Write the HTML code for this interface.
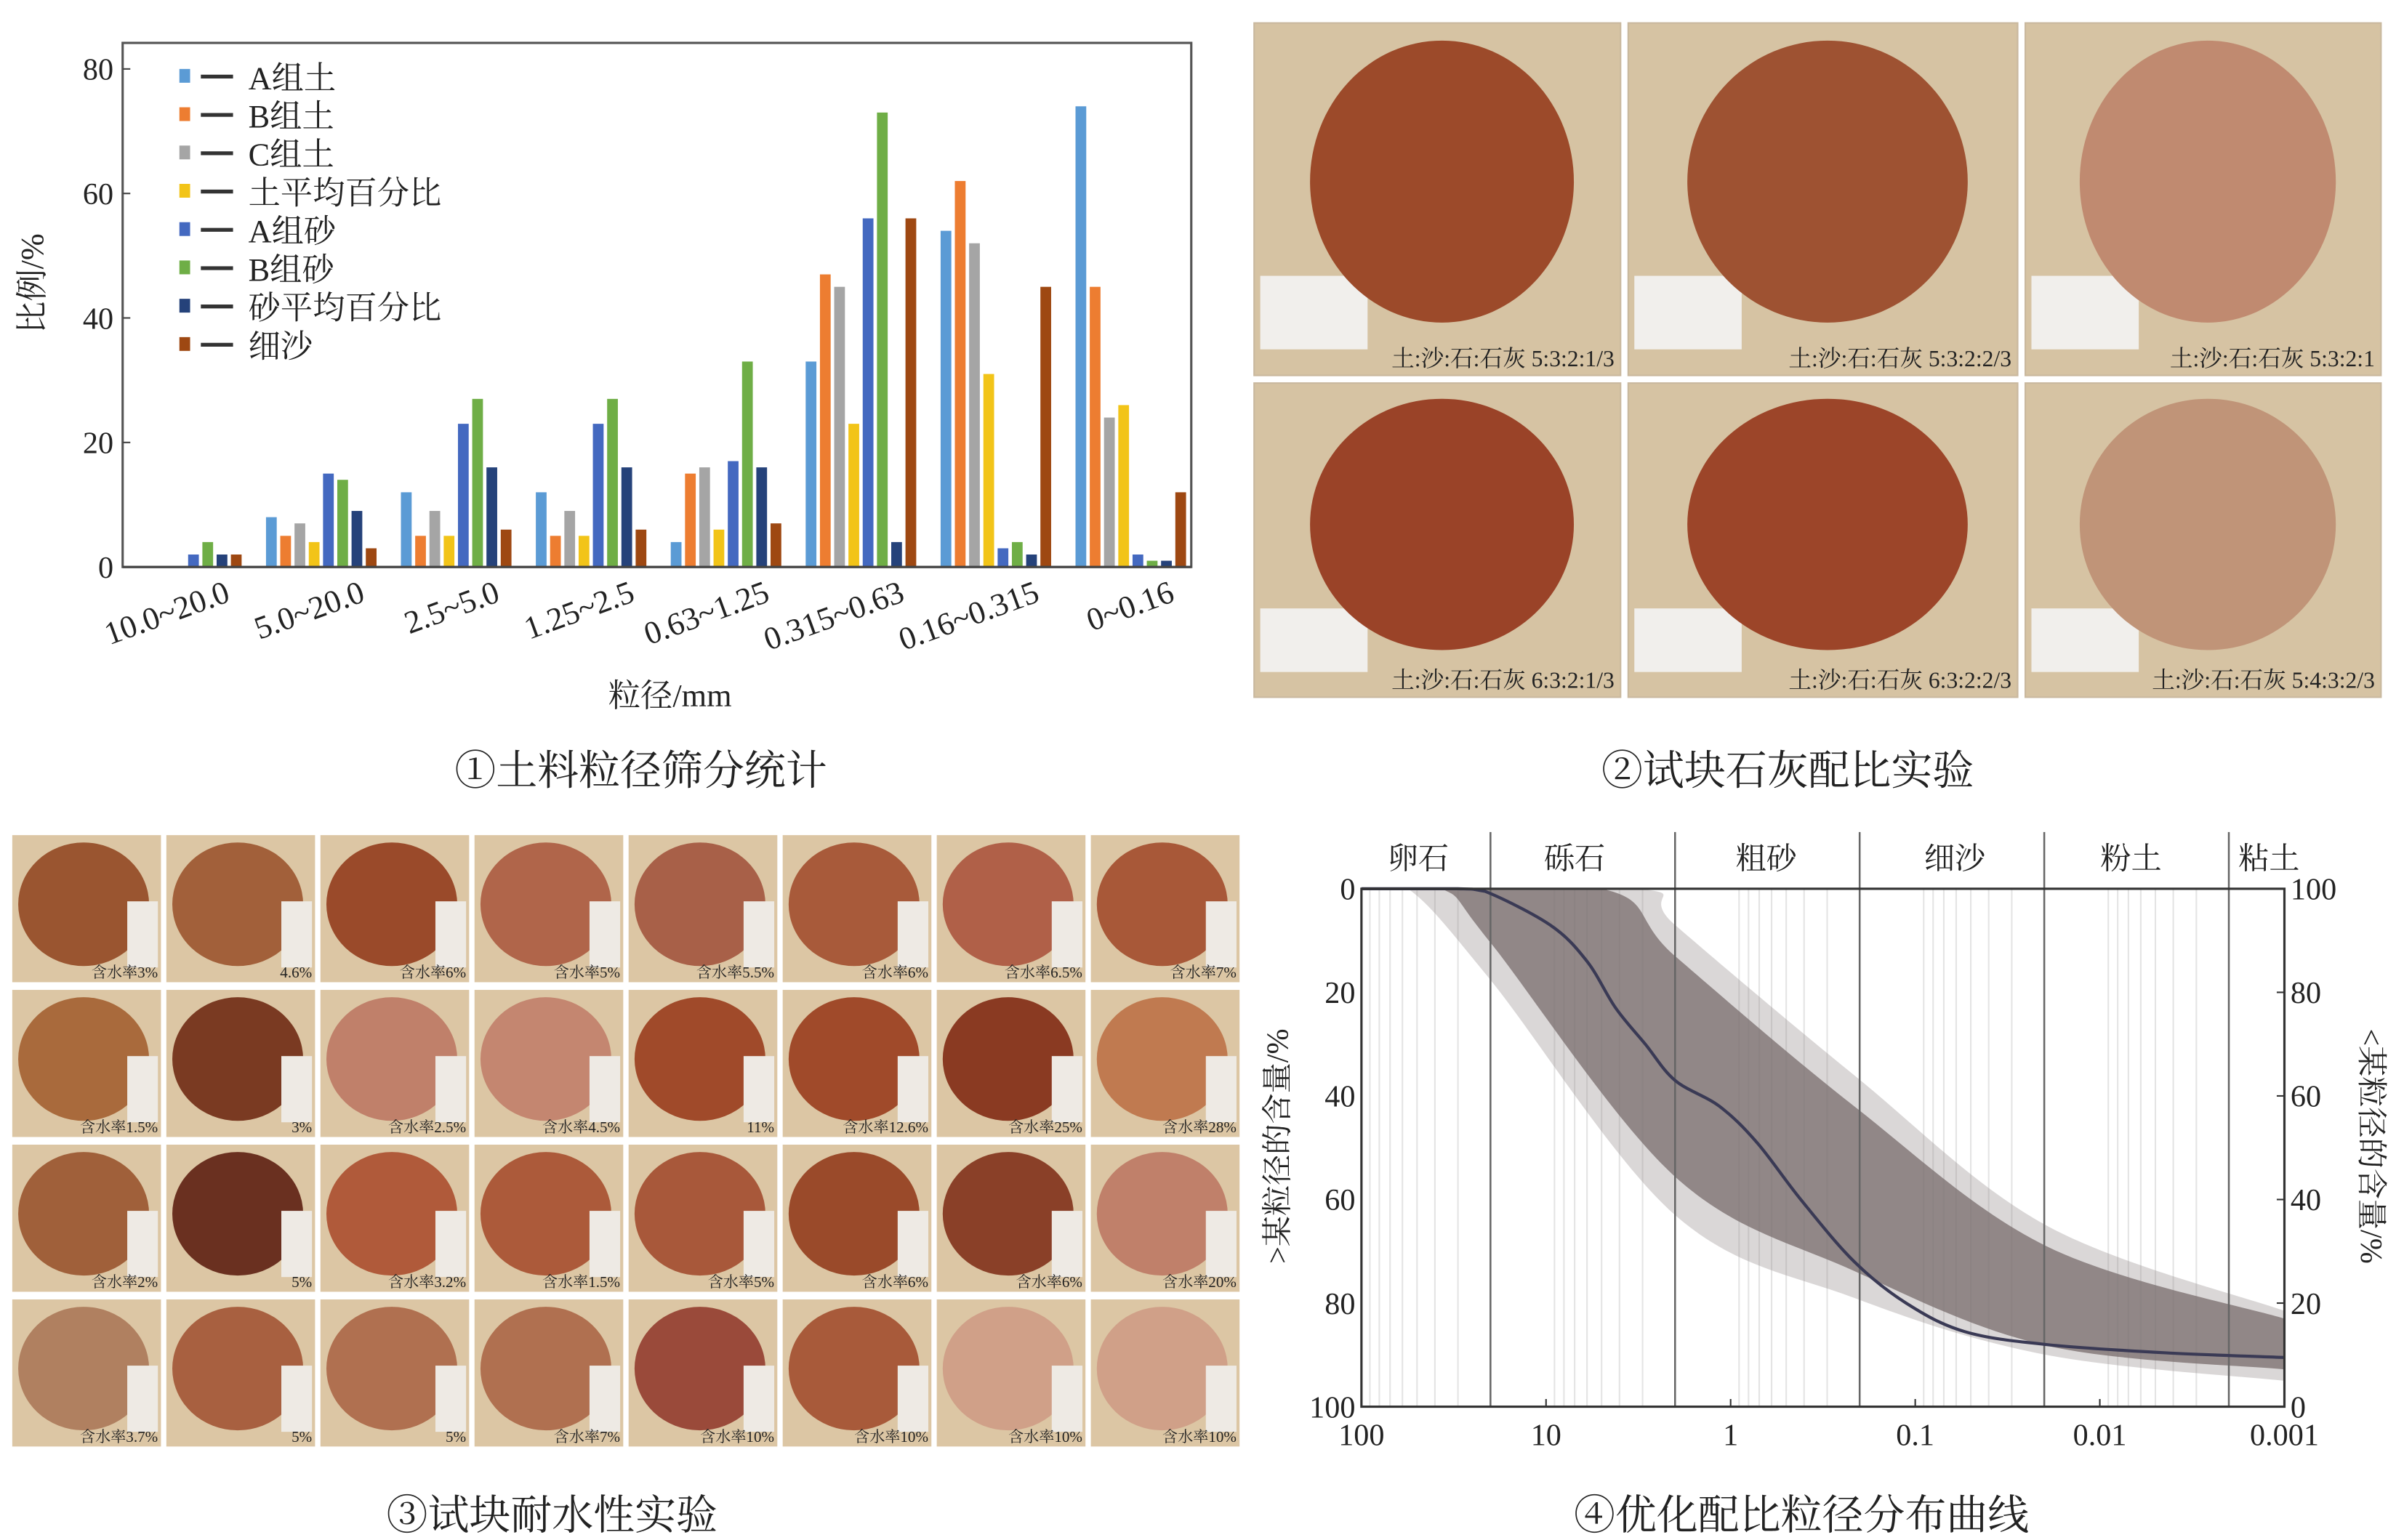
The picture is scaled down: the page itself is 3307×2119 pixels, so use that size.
<!DOCTYPE html>
<html><head><meta charset="utf-8"><style>
html,body{margin:0;padding:0;background:#fff;}
svg{display:block;}
text{font-family:"Liberation Serif","Noto Serif CJK SC",serif;fill:#222;}
</style></head><body>
<svg id="root" width="3307" height="2119" viewBox="0 0 1568 1005" preserveAspectRatio="none" xmlns="http://www.w3.org/2000/svg">
<g id="p1"></g>
<g id="p2"></g>
<g id="p3"></g>
<g id="p4"></g>
<text x="418" y="512" font-size="27" text-anchor="middle">①土料粒径筛分统计</text>
<text x="1166" y="512" font-size="27" text-anchor="middle">②试块石灰配比实验</text>
<text x="360" y="998" font-size="27" text-anchor="middle">③试块耐水性实验</text>
<text x="1175" y="998" font-size="27" text-anchor="middle">④优化配比粒径分布曲线</text>
</svg>
<script>
const NS="http://www.w3.org/2000/svg";
function mk(parent,tag,attrs,txt){const e=document.createElementNS(NS,tag);for(const k in attrs)e.setAttribute(k,attrs[k]);if(txt!==undefined)e.textContent=txt;parent.appendChild(e);return e;}

/* ---------- Chart 1 data ---------- */
const categories=["10.0~20.0","5.0~20.0","2.5~5.0","1.25~2.5","0.63~1.25","0.315~0.63","0.16~0.315","0~0.16"];
const seriesNames=["A组土","B组土","C组土","土平均百分比","A组砂","B组砂","砂平均百分比","细沙"];
const aSoil=[0,8,12,12,4,33,54,74];
const bSoil=[0,5,5,5,15,47,62,45];
const cSoil=[0,7,9,9,16,45,52,24];
const soilAvg=[0,4,5,5,6,23,31,26];
const aSand=[2,15,23,23,17,56,3,2];
const bSand=[4,14,27,27,33,73,4,1];
const sandAvg=[2,9,16,16,16,4,2,1];
const fineSand=[2,3,6,6,7,56,45,12];
const yTicks=[0,20,40,60,80];

/* ---------- Chart 4 data (particle size mm, % value) ---------- */
const xTickLabels=["100","10","1","0.1","0.01","0.001"];
const zoneNames=["卵石","砾石","粗砂","细沙","粉土","粘土"];
const zoneBounds=[20,2,0.2,0.02,0.002];
const curveSize=[100,30,21.4,9.5,6,4.2,2.9,2,1.15,0.72,0.417,0.214,0.112,0.054,0.0195,0.0044,0.001];
const curveVal=[0,0,0.5,7,14,23,30,37,42,49,60,72,80,85.5,88,89.6,90.5];
const darkUpperSize=[100,5.01,2,0.214,0.0195,0.001];
const darkUpperVal=[0,0,13,42,69,83];
const darkLowerSize=[100,37,20,2,0.214,0.0195,0.001];
const darkLowerVal=[0,0,10.4,55.6,73.8,88.2,92.8];
const lightUpperSize=[100,3.16,2,0.214,0.0195,0.001];
const lightUpperVal=[0,0,7,36,65,81.5];
const lightLowerSize=[100,56,20,2,0.214,0.0195,0.001];
const lightLowerVal=[0,0,17.6,63,79,90,95];
const yTicksL=[0,20,40,60,80,100];

/* ---------- Chart 1 ---------- */
(function(){
const g=document.getElementById('p1');
const x0=80,x1=777,yB=370,yT=45;
const yS=v=>yB-(v-0)*(yB-yT)/80;
const colors=["#5b9bd5","#ed7d31","#a5a5a5","#f2c418","#4469c0","#6fae46","#25427a","#9e4812"];
const series=[aSoil,bSoil,cSoil,soilAvg,aSand,bSand,sandAvg,fineSand];
const groupX=i=>89+i*88;
let e=mk(g,'rect',{x:x0,y:28,width:x1-x0,height:yB-28,fill:'none',stroke:'#555','stroke-width':1.5});

yTicks.forEach(t=>{
 let l=mk(g,'line',{x1:x0,x2:x0+5,y1:yS(t),y2:yS(t),stroke:'#444'});
 
 let tx=mk(g,'text',{x:x0-6,y:yS(t)+7,'font-size':20,'text-anchor':'end'},t);
 
});
series.forEach((s,si)=>{
 s.forEach((v,ci)=>{
  if(v<=0)return;
  const cx=groupX(ci)+si*9.3;
  let r=mk(g,'rect',{x:cx-3.5,y:yS(v),width:7,height:yB-yS(v),fill:colors[si]});
  
 });
});
let ax=mk(g,'line',{x1:x0,x2:x1,y1:yB,y2:yB,stroke:'#444','stroke-width':1.5});

categories.forEach((c,i)=>{
 const cx=groupX(i)+32;
 let t=mk(g,'text',{x:cx+30,y:392,'font-size':21,'text-anchor':'end',transform:`rotate(-20 ${cx+30} 392)`},c);
 
});
seriesNames.forEach((n,i)=>{
 const y=50+i*25;
 let r=mk(g,'rect',{x:117,y:y-5,width:7,height:9,fill:colors[i]});
 
 let l=mk(g,'line',{x1:131,x2:152,y1:y,y2:y,stroke:'#333','stroke-width':2.5});
 
 let t=mk(g,'text',{x:162,y:y+8,'font-size':21},n);
 
});
let xt=mk(g,'text',{x:437,y:461,'font-size':21,'text-anchor':'middle'},'粒径/mm');

let yt=mk(g,'text',{x:0,y:0,'font-size':21,'text-anchor':'middle',transform:'translate(28 185) rotate(-90)'},'比例/%');

})();

/* ---------- Photo panel 2 ---------- */
(function(){
const g=document.getElementById('p2');
const cols=[[818,1057],[1062,1316],[1321,1553]];
const rows=[[15,245],[250,455]];
const labels=[["土:沙:石:石灰 5:3:2:1/3","土:沙:石:石灰 5:3:2:2/3","土:沙:石:石灰 5:3:2:1"],["土:沙:石:石灰 6:3:2:1/3","土:沙:石:石灰 6:3:2:2/3","土:沙:石:石灰 5:4:3:2/3"]];
const fills=[["#9c4a2a","#9e5232","#c08a70"],["#9a4328","#9c4529","#c09478"]];
rows.forEach((r,ri)=>cols.forEach((c,ci)=>{
 let cell=mk(g,'g',{});
 
 mk(cell,'rect',{x:c[0],y:r[0],width:c[1]-c[0],height:r[1]-r[0],fill:'#d6c3a3',stroke:'#c9b89e'});
 mk(cell,'rect',{x:c[0]+4,y:r[0]+165*(r[1]-r[0])/230,width:70,height:60*(r[1]-r[0])/230-12,fill:'#f1efec'});
 const cx=(c[0]+c[1])/2+3,cy=r[0]+(r[1]-r[0])*0.45;
 mk(cell,'ellipse',{cx:cx,cy:cy,rx:(c[1]-c[0])*0.36,ry:(r[1]-r[0])*0.4,fill:fills[ri][ci]});
 let t=mk(cell,'text',{x:c[1]-4,y:r[1]-6,'font-size':15,'text-anchor':'end',fill:'#3a2a1a'},labels[ri][ci]);
 
}));
})();

/* ---------- Photo panel 3 ---------- */
(function(){
const g=document.getElementById('p3');
const cfill=[["#9a5530","#a2603a","#9a4a2a","#b0654a","#a86048","#a85a3a","#b06048","#a85838"],
 ["#a96a3c","#7a3a22","#c0806a","#c48670","#a04a2a","#a04a2a","#8a3a22","#c07a50"],
 ["#a0603a","#6a3020","#b05a3a","#ac5a3a","#a8583a","#9a4a2a","#8a4028","#c0806a"],
 ["#b08060","#a86040","#b07050","#b07050","#9a4a3a","#a85a3a","#d0a088","#d0a088"]];
const labs=[["含水率3%","4.6%","含水率6%","含水率5%","含水率5.5%","含水率6%","含水率6.5%","含水率7%"],
 ["含水率1.5%","3%","含水率2.5%","含水率4.5%","11%","含水率12.6%","含水率25%","含水率28%"],
 ["含水率2%","5%","含水率3.2%","含水率1.5%","含水率5%","含水率6%","含水率6%","含水率20%"],
 ["含水率3.7%","5%","5%","含水率7%","含水率10%","含水率10%","含水率10%","含水率10%"]];
for(let r=0;r<4;r++)for(let c=0;c<8;c++){
 const x=8+c*100.5,y=545+r*101,w=97,h=96;
 let cell=mk(g,'g',{});
 
 mk(cell,'rect',{x:x,y:y,width:w,height:h,fill:'#dcc6a4'});
 mk(cell,'ellipse',{cx:x+w*0.48,cy:y+h*0.47,rx:w*0.44,ry:h*0.42,fill:cfill[r][c]});
 mk(cell,'rect',{x:x+w-22,y:y+h*0.45,width:20,height:h*0.45,fill:'#eeeae4'});
 let t=mk(cell,'text',{x:x+w-2,y:y+h-3,'font-size':10,'text-anchor':'end',fill:'#3a2a1a'},labs[r][c]);
 
}
})();

/* ---------- Chart 4 ---------- */
(function(){
const g=document.getElementById('p4');
const X0=888,X1=1490,Y0=580,Y1=918;
const xS=s=>X0+(Math.log10(100/s))*(X1-X0)/5;
const yS=v=>Y0+v*(Y1-Y0)/100;
for(let d=0;d<5;d++){for(let k=2;k<=9;k++){const xx=xS(100/Math.pow(10,d)*k/10);
 let l=mk(g,'line',{x1:xx,x2:xx,y1:Y0,y2:Y1,stroke:'#e4e4e4','stroke-width':1});
 }}
function smooth(xs,vs){const p=xs.map((s,i)=>[xS(s),yS(vs[i])]);let d=`M${p[0][0]},${p[0][1]}`;
 for(let i=0;i<p.length-1;i++){const p0=p[Math.max(0,i-1)],p1=p[i],p2=p[i+1],p3=p[Math.min(p.length-1,i+2)];
  let c1=[p1[0]+(p2[0]-p0[0])/6,p1[1]+(p2[1]-p0[1])/6],c2=[p2[0]-(p3[0]-p1[0])/6,p2[1]-(p3[1]-p1[1])/6];
  c1[1]=Math.max(Y0,c1[1]);c2[1]=Math.max(Y0,c2[1]);
  d+=` C${c1[0]},${c1[1]} ${c2[0]},${c2[1]} ${p2[0]},${p2[1]}`;}return {d,p};}
function band(us,uv,ls,lv,fill,name){
 const u=smooth(us,uv),l=smooth(ls.slice().reverse(),lv.slice().reverse());
 let b=mk(g,'path',{d:u.d+' L'+l.d.slice(1)+' Z',fill:fill});
 
}
band(lightUpperSize,lightUpperVal,lightLowerSize,lightLowerVal,'rgba(150,140,140,0.35)','outer-band');
band(darkUpperSize,darkUpperVal,darkLowerSize,darkLowerVal,'rgba(120,108,108,0.75)','inner-band');
zoneBounds.forEach(s=>{let l=mk(g,'line',{x1:xS(s),x2:xS(s),y1:543,y2:Y1,stroke:'#666','stroke-width':1.2});
 });
const zc=[925,1027,1152,1275,1390,1480];
zoneNames.forEach((n,i)=>{let t=mk(g,'text',{x:zc[i],y:567,'font-size':20,'text-anchor':'middle'},n);
 });
let c=mk(g,'path',{d:smooth(curveSize,curveVal).d,fill:'none',stroke:'#3a3a55','stroke-width':2});

let f=mk(g,'rect',{x:X0,y:Y0,width:X1-X0,height:Y1-Y0,fill:'none',stroke:'#333','stroke-width':1.5});

yTicksL.forEach(t=>{
 let a=mk(g,'text',{x:X0-4,y:yS(t)+7,'font-size':20,'text-anchor':'end'},t);
 
 let b=mk(g,'text',{x:X1+4,y:yS(t)+7,'font-size':20},100-t);
 
 let k=mk(g,'line',{x1:X1-5,x2:X1,y1:yS(t),y2:yS(t),stroke:'#333'});
 
});
xTickLabels.forEach((s,i)=>{const xx=X0+i*(X1-X0)/5;
 let t=mk(g,'text',{x:xx,y:943,'font-size':20,'text-anchor':'middle'},s);
 
 let k=mk(g,'line',{x1:xx,x2:xx,y1:Y1-5,y2:Y1,stroke:'#333'});
 });
let yl=mk(g,'text',{x:0,y:0,'font-size':20,'text-anchor':'middle',transform:'translate(840 748) rotate(-90)'},'>某粒径的含量/%');

let yr=mk(g,'text',{x:0,y:0,'font-size':20,'text-anchor':'middle',transform:'translate(1540 748) rotate(90)'},'<某粒径的含量/%');

})();
</script>
</body></html>
